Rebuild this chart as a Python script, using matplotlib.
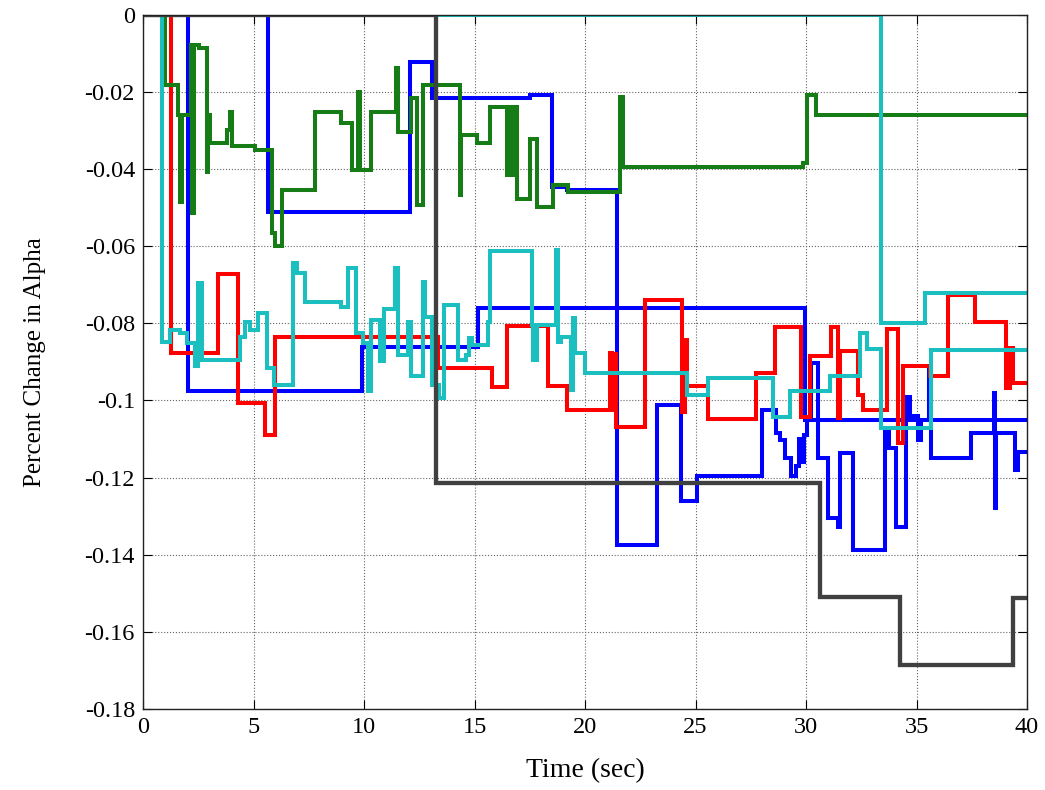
import matplotlib
matplotlib.use("Agg")
import matplotlib.pyplot as plt

plt.rcParams['font.family'] = ['Liberation Serif', 'DejaVu Serif']
plt.rcParams['axes.unicode_minus'] = False

# Step series: switch times (sec) and the value held after each switch
blue_a_t = [0, 2.04, 9.88, 15.16, 29.94]
blue_a_y = [0, -0.0977, -0.0861, -0.0761, -0.105]

blue_b_t = [0, 5.66, 12.07, 13.05, 17.5, 18.48, 19.2, 21.42, 23.23, 24.36, 25.04, 27.99,
            28.66, 28.8, 29.05, 29.3, 29.55, 29.7, 29.8, 29.9, 30.05, 30.24, 30.54, 31.0,
            31.45, 31.52, 32.13, 33.56, 33.75, 34.09, 34.54, 34.69, 35.07, 35.22, 35.55,
            35.65, 37.48, 38.52, 38.56, 38.6, 39.44, 39.6]
blue_b_y = [0, -0.0511, -0.0122, -0.0217, -0.0209, -0.0448, -0.0455, -0.1376, -0.1012,
            -0.1262, -0.1196, -0.1025, -0.1085, -0.1103, -0.115, -0.1197, -0.117, -0.110,
            -0.116, -0.109, -0.105, -0.0904, -0.115, -0.1305, -0.1327, -0.1137, -0.1387,
            -0.1076, -0.1124, -0.1327, -0.099, -0.104, -0.1102, -0.105, -0.0921, -0.115,
            -0.1085, -0.0982, -0.1279, -0.1085, -0.118, -0.1133]

red_t = [0, 1.24, 3.39, 4.30, 5.5, 5.96, 13.35, 15.77, 16.45, 18.33, 19.16, 21.12, 21.2,
         21.28, 21.38, 22.71, 24.37, 24.5, 24.6, 25.57, 27.75, 28.58, 29.79, 30.17, 31.15,
         31.45, 31.52, 32.35, 32.58, 33.64, 34.16, 34.39, 35.6, 36.43, 37.63, 39.07,
         39.25, 39.35]
red_y = [0, -0.0877, -0.0673, -0.1007, -0.1091, -0.0836, -0.0917, -0.0966, -0.0808,
         -0.0962, -0.1025, -0.0878, -0.1025, -0.088, -0.1068, -0.074, -0.1029, -0.0843,
         -0.0962, -0.1049, -0.0928, -0.0809, -0.1042, -0.0886, -0.0809, -0.1046, -0.0873,
         -0.0986, -0.1025, -0.0816, -0.1111, -0.091, -0.0938, -0.0728, -0.0796, -0.0968,
         -0.0865, -0.0955]

green_t = [0, 0.98, 1.58, 1.66, 1.75, 2.16, 2.22, 2.3, 2.5, 2.87, 2.94, 3.02, 3.77, 3.92,
           4.0, 5.05, 5.81, 5.96, 6.26, 7.77, 8.97, 9.43, 9.73, 9.8, 10.33, 11.46, 11.55,
           12.1, 12.4, 12.67, 14.33, 14.4, 15.09, 15.69, 16.45, 16.55, 16.65, 16.75, 16.9,
           17.5, 17.8, 18.56, 19.24, 21.57, 21.73, 29.87, 30.02, 30.47]
green_y = [0, -0.0183, -0.026, -0.0485, -0.026, -0.0079, -0.0515, -0.0079, -0.0088,
           -0.0407, -0.026, -0.0334, -0.0299, -0.0252, -0.0342, -0.0351, -0.0567, -0.0601,
           -0.0455, -0.0252, -0.0282, -0.0403, -0.02, -0.0403, -0.0252, -0.0139, -0.0304,
           -0.0217, -0.0494, -0.0183, -0.0468, -0.0312, -0.0334, -0.0239, -0.0416, -0.0239,
           -0.0416, -0.0239, -0.0479, -0.0323, -0.0498, -0.0442, -0.046, -0.0213, -0.0394,
           -0.0385, -0.0208, -0.026]

cyan_a_t = [0, 0.86, 1.2, 1.65, 1.96, 2.34, 2.48, 2.64, 4.38, 4.6, 4.83, 5.2, 5.58, 5.9,
            6.79, 6.95, 7.31, 8.97, 9.28, 9.65, 9.95, 10.18, 10.33, 10.72, 10.9, 11.4,
            11.55, 12.0, 12.14, 12.67, 12.76, 13.07, 13.4, 13.6, 14.26, 14.6, 14.75, 14.9,
            15.62, 15.7, 17.58, 17.65, 17.8, 18.7, 18.78, 18.9, 19.35, 19.45, 19.55, 19.98,
            24.59, 25.57, 28.51, 29.26, 31.07, 32.43, 32.75, 33.41, 35.67]
cyan_a_y = [0, -0.0848, -0.0817, -0.0826, -0.0852, -0.0912, -0.0696, -0.0895, -0.0835,
            -0.0796, -0.0817, -0.0774, -0.0916, -0.096, -0.0645, -0.067, -0.0744, -0.0757,
            -0.0657, -0.0826, -0.0852, -0.0977, -0.0792, -0.0899, -0.0762, -0.0657,
            -0.0882, -0.0796, -0.0938, -0.0692, -0.0783, -0.096, -0.0994, -0.0753,
            -0.0895, -0.0882, -0.0839, -0.0856, -0.0796, -0.0614, -0.0804, -0.0895,
            -0.0804, -0.061, -0.0848, -0.0835, -0.0973, -0.0787, -0.0878, -0.093, -0.0986,
            -0.0943, -0.1042, -0.0977, -0.0936, -0.0826, -0.0868, -0.1072, -0.0869]

cyan_b_t = [0, 33.37, 35.37]
cyan_b_y = [0, -0.080, -0.0721]

black_t = [0, 13.27, 30.62, 34.24, 39.37]
black_y = [0, -0.1215, -0.151, -0.1685, -0.1513]

x_ticks = [0, 5, 10, 15, 20, 25, 30, 35, 40]
y_ticks = [0, -0.02, -0.04, -0.06, -0.08, -0.1, -0.12, -0.14, -0.16, -0.18]
y_tick_labels = ['0', '-0.02', '-0.04', '-0.06', '-0.08', '-0.1', '-0.12', '-0.14', '-0.16', '-0.18']

t_end = 40

fig = plt.figure(figsize=(10.45, 7.9), dpi=100)
ax = fig.add_axes([0.1371, 0.1025, 0.8457, 0.8791])

series = [
    (blue_a_t, blue_a_y, '#0000ff', 2.9),
    (blue_b_t, blue_b_y, '#0000ff', 2.9),
    (red_t, red_y, '#ff0000', 2.9),
    (green_t, green_y, '#167c16', 2.9),
    (cyan_a_t, cyan_a_y, '#1cbfbf', 2.9),
    (cyan_b_t, cyan_b_y, '#1cbfbf', 2.9),
    (black_t, black_y, '#404040', 3.1),
]
for t, y, color, lw in series:
    ax.step(t + [t_end], y + [y[-1]], where='post', color=color, linewidth=lw,
            solid_joinstyle='miter')

ax.set_xlim(0, 40)
ax.set_ylim(-0.18, 0)
ax.set_xticks(x_ticks)
ax.set_xticklabels([str(v) for v in x_ticks])
ax.set_yticks(y_ticks)
ax.set_yticklabels(y_tick_labels)
ax.tick_params(direction='in', length=6.5, width=0.8, top=True, right=True,
               labelsize=17.5, pad=6)
ax.grid(True, linestyle=':', color='#666666', linewidth=0.8)
for s in ax.spines.values():
    s.set_linewidth(1.0)
    s.set_color('#222222')

ax.set_xlabel('Time (sec)', fontsize=20, labelpad=14)
ax.set_ylabel('Percent Change in Alpha', fontsize=18, labelpad=28)

fig.savefig('out.png', dpi=100)
